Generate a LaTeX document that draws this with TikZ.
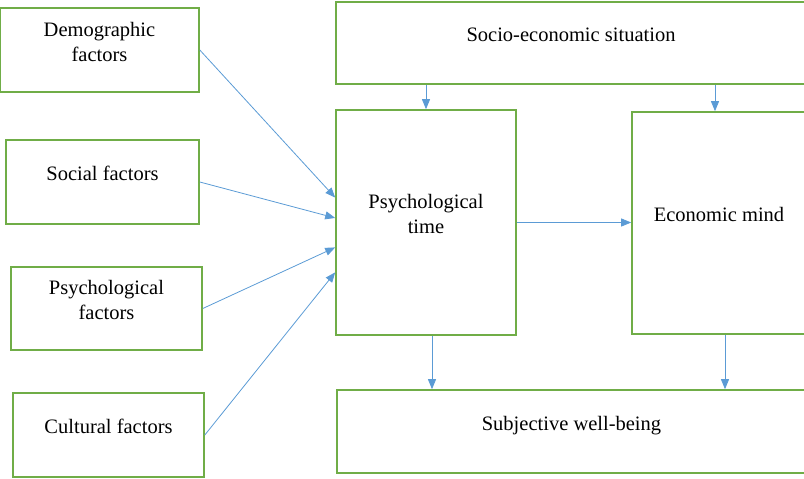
\documentclass[tikz,border=0pt]{standalone}
\usepackage{fontspec}
\setmainfont{Liberation Serif}
\usetikzlibrary{arrows.meta,calc}
\definecolor{boxgreen}{HTML}{70AD47}
\definecolor{arrblue}{HTML}{5B9BD5}
% box text sits a little above the middle
\newcommand{\boxtext}[1]{\raisebox{6.5pt}[\height][\depth]{\begin{tabular}{@{}c@{}}#1\end{tabular}}}
\begin{document}
\begin{tikzpicture}[x=1pt, y=-1pt,
    box/.style={draw=boxgreen, line width=1.6pt, rectangle, align=center,
                inner sep=0pt, font=\fontsize{20.5}{25}\selectfont},
    arr/.style={draw=arrblue, line width=0.8pt,
                -{Triangle[length=10pt,width=8pt]}}]
  \useasboundingbox (0,0) rectangle (804,479);
  % left column
  \node (demo)  [box, minimum width=199pt, minimum height=84pt] at (99.5,50)
                {\boxtext{Demographic\\factors}};
  \node (soc)   [box, minimum width=193pt, minimum height=84pt] at (102.5,182)
                {\boxtext{Social factors}};
  \node (psyf)  [box, minimum width=191pt, minimum height=83pt] at (106.5,308.5)
                {\boxtext{Psychological\\factors}};
  \node (cult)  [box, minimum width=191pt, minimum height=84pt] at (108.5,435)
                {\boxtext{Cultural factors}};
  % right part
  \node (socio) [box, minimum width=470pt, minimum height=82pt] at (571,43)
                {\boxtext{Socio-economic situation}};
  \node (pt)    [box, minimum width=180pt, minimum height=225pt] at (426,222.5)
                {\boxtext{Psychological\\time}};
  \node (em)    [box, minimum width=174pt, minimum height=222pt] at (719,223)
                {\boxtext{Economic mind}};
  \node (sw)    [box, minimum width=469pt, minimum height=83pt] at (571.5,431.5)
                {\boxtext{Subjective well-being}};
  \draw[arr] (demo.east) -- ($(pt.north west)!0.39!(pt.south west)$);
  \draw[arr] (soc.east)  -- ($(pt.north west)!0.48!(pt.south west)$);
  \draw[arr] (psyf.east) -- ($(pt.north west)!0.61!(pt.south west)$);
  \draw[arr] (cult.east) -- ($(pt.north west)!0.72!(pt.south west)$);
  \draw[arr] (socio.south -| pt.north) -- (pt.north);
  \draw[arr] ([xshift=-4pt]socio.south -| em.north) -- ([xshift=-4pt]em.north);
  \draw[arr] (pt.east) -- (pt.east -| em.west);
  \draw[arr] ([xshift=6pt]pt.south) -- ([xshift=6pt]pt.south |- sw.north);
  \draw[arr] ([xshift=6pt]em.south) -- ([xshift=6pt]em.south |- sw.north);
\end{tikzpicture}
\end{document}
